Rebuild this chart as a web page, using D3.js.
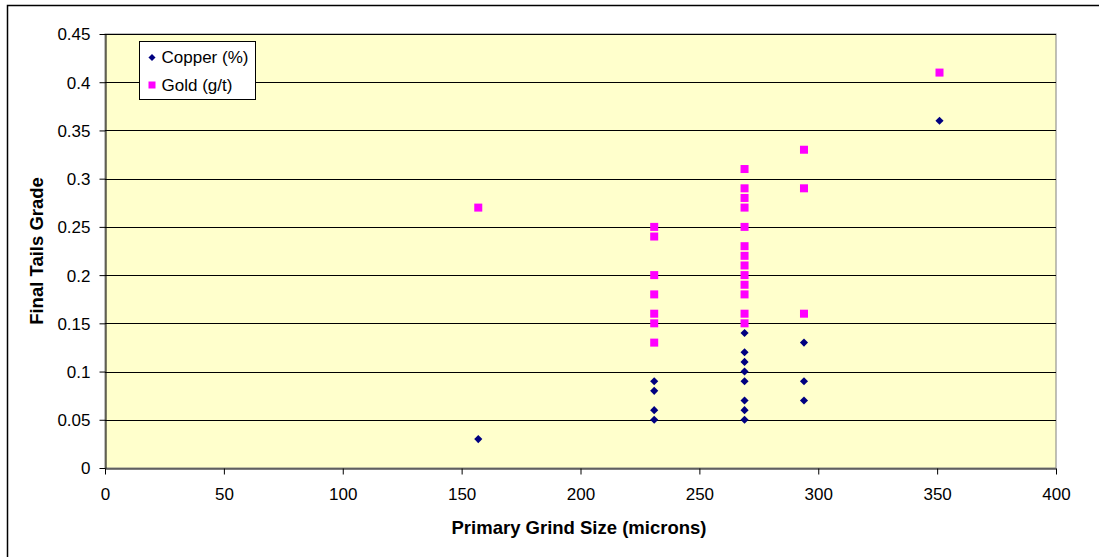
<!DOCTYPE html>
<html>
<head>
<meta charset="utf-8">
<script src="https://cdn.jsdelivr.net/npm/d3@7"></script>
<style>
  body { margin: 0; background: #fff; }
  svg text { font-family: "Liberation Sans", Arial, sans-serif; }
</style>
</head>
<body>
<svg id="chart" width="1099" height="557"></svg>
<script>
// grind size (microns) for each sample
const copperX = [157, 231, 231, 231, 231, 269, 269, 269, 269, 269, 269, 269, 269, 294, 294, 294, 351];
const copperY = [0.03, 0.09, 0.08, 0.06, 0.05, 0.14, 0.12, 0.11, 0.10, 0.09, 0.07, 0.06, 0.05, 0.13, 0.09, 0.07, 0.36];

const goldX = [157, 231, 231, 231, 231, 231, 231, 231,
  269, 269, 269, 269, 269, 269, 269, 269, 269, 269, 269, 269, 269,
  294, 294, 294, 351];
const goldY = [0.27, 0.25, 0.24, 0.20, 0.18, 0.16, 0.15, 0.13,
  0.31, 0.29, 0.28, 0.27, 0.25, 0.23, 0.22, 0.21, 0.20, 0.19, 0.18, 0.16, 0.15,
  0.33, 0.29, 0.16, 0.41];

const xTicks = [0, 50, 100, 150, 200, 250, 300, 350, 400];
const yTicks = [0, 0.05, 0.1, 0.15, 0.2, 0.25, 0.3, 0.35, 0.4, 0.45];
const seriesNames = ['Copper (%)', 'Gold (g/t)'];

const svg = d3.select('#chart');
const plot = { left: 105, top: 34, right: 1056, bottom: 468 };

const x = d3.scaleLinear().domain([0, 400]).range([plot.left, plot.right]);
const y = d3.scaleLinear().domain([0, 0.45]).range([plot.bottom, plot.top]);

// outer chart frame
svg.append('rect')
  .attr('x', 7.5).attr('y', 5.5)
  .attr('width', 1100).attr('height', 560)
  .attr('fill', '#fff').attr('stroke', '#000').attr('stroke-width', 1.5);

// plot area
svg.append('rect')
  .attr('x', plot.left).attr('y', plot.top)
  .attr('width', plot.right - plot.left).attr('height', plot.bottom - plot.top)
  .attr('fill', '#FFFFCC').attr('stroke', '#808080').attr('stroke-width', 1);

// gridlines
svg.append('g')
  .selectAll('line')
  .data(yTicks.filter((d) => d > 0))
  .enter()
  .append('line')
  .attr('x1', plot.left).attr('x2', plot.right)
  .attr('y1', (d) => Math.round(y(d)) + 0.5)
  .attr('y2', (d) => Math.round(y(d)) + 0.5)
  .attr('stroke', '#000').attr('stroke-width', 1);

// axes
const xAxis = svg.append('g')
  .attr('transform', `translate(0,${plot.bottom + 0.5})`)
  .call(d3.axisBottom(x).tickValues(xTicks).tickSize(6).tickSizeOuter(0).tickFormat(d3.format('d')));
const yAxis = svg.append('g')
  .attr('transform', `translate(${plot.left + 0.5},0)`)
  .call(d3.axisLeft(y).tickValues(yTicks).tickSize(6).tickSizeOuter(0).tickFormat((d) => String(+d.toFixed(2))));

[xAxis, yAxis].forEach((a) => {
  a.attr('font-size', null).attr('font-family', null);
  a.select('.domain').attr('stroke', '#000');
  a.selectAll('.tick line').attr('stroke', '#000');
  a.selectAll('.tick text')
    .attr('fill', '#000')
    .style('font-size', '17px');
});
xAxis.selectAll('.tick text').attr('dy', '0.35em').attr('y', 26);
yAxis.selectAll('.tick text').attr('x', -15).attr('dy', '0.35em');

// axis titles
svg.append('text')
  .attr('x', 579)
  .attr('y', 534)
  .attr('text-anchor', 'middle')
  .style('font-size', '18.5px').style('font-weight', 'bold')
  .text('Primary Grind Size (microns)');

svg.append('text')
  .attr('transform', `translate(43,${(plot.top + plot.bottom) / 2}) rotate(-90)`)
  .attr('text-anchor', 'middle')
  .style('font-size', '18.5px').style('font-weight', 'bold')
  .text('Final Tails Grade');

// markers
const diamond = d3.symbol().type(d3.symbolDiamond2).size(42);
const copper = copperX.map((v, i) => ({ x: v, y: copperY[i] }));
const gold = goldX.map((v, i) => ({ x: v, y: goldY[i] }));

svg.append('g')
  .selectAll('path')
  .data(copper)
  .enter()
  .append('path')
  .attr('d', diamond)
  .attr('transform', (d) => `translate(${x(d.x)},${y(d.y)})`)
  .attr('fill', '#000080');

svg.append('g')
  .selectAll('rect')
  .data(gold)
  .enter()
  .append('rect')
  .attr('x', (d) => x(d.x) - 4)
  .attr('y', (d) => y(d.y) - 4)
  .attr('width', 8).attr('height', 8)
  .attr('fill', '#FF00FF');

// legend
const legend = svg.append('g').attr('transform', 'translate(139.5,41.5)');
legend.append('rect')
  .attr('width', 116).attr('height', 58)
  .attr('fill', '#fff').attr('stroke', '#000').attr('stroke-width', 1);

legend.append('path')
  .attr('d', d3.symbol().type(d3.symbolDiamond2).size(32))
  .attr('transform', 'translate(12.5,16)')
  .attr('fill', '#000080');
legend.append('rect')
  .attr('x', 9).attr('y', 40).attr('width', 7).attr('height', 7)
  .attr('fill', '#FF00FF');

legend.selectAll('text.lbl')
  .data(seriesNames)
  .enter()
  .append('text')
  .attr('class', 'lbl')
  .attr('x', 22)
  .attr('y', (d, i) => 16 + i * 28)
  .attr('dy', '0.35em')
  .style('font-size', '17px')
  .text((d) => d);
</script>
</body>
</html>
